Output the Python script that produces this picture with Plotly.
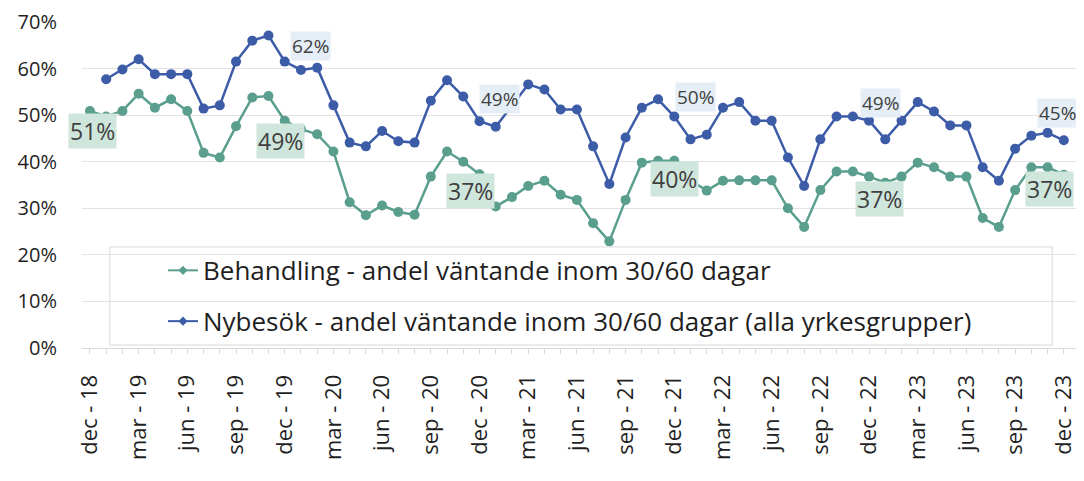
import plotly.graph_objects as go

months = ["jan", "feb", "mar", "apr", "maj", "jun", "jul", "aug", "sep", "okt", "nov", "dec"]
categories = ["dec - 18"] + [f"{m} - {y}" for y in ["19", "20", "21", "22", "23"] for m in months]
tick_labels = ["dec - 18", "mar - 19", "jun - 19", "sep - 19", "dec - 19", "mar - 20", "jun - 20",
               "sep - 20", "dec - 20", "mar - 21", "jun - 21", "sep - 21", "dec - 21", "mar - 22",
               "jun - 22", "sep - 22", "dec - 22", "mar - 23", "jun - 23", "sep - 23", "dec - 23"]
y_ticks = [0, 10, 20, 30, 40, 50, 60, 70]

# Behandling: dec-18 .. dec-23 (61 months)
behandling = [50.9,
              49.7, 50.9, 54.6, 51.6, 53.4, 50.9, 41.9, 40.9, 47.6, 53.8, 54.1, 48.8,
              47.0, 45.9, 42.2, 31.3, 28.5, 30.6, 29.2, 28.6, 36.8, 42.2, 40.0, 37.3,
              30.4, 32.4, 34.8, 35.9, 32.9, 31.8, 26.8, 22.9, 31.8, 39.8, 40.2, 40.2,
              36.0, 33.8, 35.9, 36.0, 36.0, 36.0, 30.0, 26.0, 33.9, 37.9, 37.9, 36.8,
              35.5, 36.8, 39.8, 38.8, 36.8, 36.8, 27.9, 26.0, 33.9, 38.8, 38.8, 37.2]
# Nybesök: jan-19 .. dec-23 (60 months)
nybesok = [57.7, 59.8, 62.0, 58.8, 58.8, 58.8, 51.4, 52.1, 61.5, 66.0, 67.1, 61.5,
           59.7, 60.2, 52.1, 44.1, 43.3, 46.6, 44.4, 44.1, 53.1, 57.5, 54.0, 48.7,
           47.5, 52.0, 56.6, 55.5, 51.2, 51.2, 43.3, 35.2, 45.2, 51.6, 53.4, 49.7,
           44.8, 45.8, 51.6, 52.8, 48.8, 48.8, 40.9, 34.8, 44.8, 49.7, 49.7, 48.8,
           44.8, 48.8, 52.8, 50.8, 47.8, 47.8, 38.8, 35.9, 42.8, 45.6, 46.2, 44.6]

name_g = "Behandling - andel väntande inom 30/60 dagar"
name_b = "Nybesök - andel väntande inom 30/60 dagar (alla yrkesgrupper)"

green = "#5a9e8e"
blue = "#3d5ca8"
font_family = "'Open Sans', 'Noto Sans', sans-serif"
text_color = "#404040"
dark = "#1f1f1f"

x_green = list(range(len(categories)))
x_blue = list(range(1, len(categories)))

fig = go.Figure()
fig.add_trace(go.Scatter(
    x=x_green, y=behandling, mode="lines+markers", name=name_g, showlegend=False, cliponaxis=False,
    line=dict(color=green, width=2.5), marker=dict(color=green, size=10)))
fig.add_trace(go.Scatter(
    x=x_blue, y=nybesok, mode="lines+markers", name=name_b, showlegend=False, cliponaxis=False,
    line=dict(color=blue, width=2.5), marker=dict(color=blue, size=10)))
# legend entries (small markers, as in the reference)
fig.add_trace(go.Scatter(x=[None], y=[None], mode="lines+markers", name=name_g, legendgroup="g1",
                         line=dict(color=green, width=2), marker=dict(color=green, size=7, symbol="diamond")))
fig.add_trace(go.Scatter(x=[None], y=[None], mode="lines+markers", name=name_b, legendgroup="g2",
                         line=dict(color=blue, width=2), marker=dict(color=blue, size=7, symbol="diamond")))

# December labels
dec_idx = [i for i, c in enumerate(categories) if c.startswith("dec")]
green_offsets = {0: (3, 20), 12: (-4, 20), 24: (-9, 17), 36: (0, 18), 48: (10, 22), 60: (-14, 14)}
blue_offsets = {12: (26, -16), 24: (20, -22), 36: (21, -20), 48: (11, -18), 60: (-6, -27)}

annotations = []
for i in dec_idx:
    v = behandling[i]
    ax, ay = green_offsets[i]
    annotations.append(dict(x=i, y=v, xref="x", yref="y", text=f"{round(v)}%", showarrow=True,
                            arrowcolor="rgba(0,0,0,0)", ax=ax, ay=ay, bgcolor="#cfe6dc",
                            font=dict(size=23, color=text_color, family=font_family), borderpad=1))
for i in dec_idx:
    if i == 0:
        continue
    v = nybesok[i - 1]
    ax, ay = blue_offsets[i]
    annotations.append(dict(x=i, y=v, xref="x", yref="y", text=f"{round(v)}%", showarrow=True,
                            arrowcolor="rgba(0,0,0,0)", ax=ax, ay=ay, bgcolor="#e5eef7",
                            font=dict(size=19, color=text_color, family=font_family), borderpad=1))

fig.update_layout(
    width=1068, height=465,
    margin=dict(l=74, r=0, t=14, b=125, autoexpand=False),
    paper_bgcolor="white", plot_bgcolor="white",
    font=dict(family=font_family, color=dark),
    annotations=annotations,
    showlegend=True,
    legend=dict(x=0.0815, y=0.31, xanchor="left", yanchor="top", bgcolor="rgba(0,0,0,0)",
                font=dict(size=26, color=dark, family=font_family), tracegroupgap=14,
                itemwidth=30),
    shapes=[dict(type="rect", xref="paper", yref="paper", x0=0.028, x1=0.976, y0=0.009, y1=0.31,
                 line=dict(color="#d9d9d9", width=1), layer="below")],
)
fig.update_yaxes(range=[0, 70], tickmode="array", tickvals=y_ticks, ticktext=[f"{v}%" for v in y_ticks],
                 showgrid=True, gridcolor="#e3e3e3", gridwidth=1, zeroline=False,
                 tickfont=dict(size=20, color=dark), ticklabelstandoff=24, showline=False)
fig.update_xaxes(range=[-0.49, 60.75], tickmode="array", tickvals=list(range(0, 61, 3)), ticktext=tick_labels,
                 tickangle=-90, showgrid=False, zeroline=False, showline=True, linecolor="#d9d9d9",
                 ticks="outside", ticklen=5, tickcolor="#d9d9d9", ticklabeloverflow="allow",
                 minor=dict(dtick=1, tick0=0, ticks="outside", ticklen=5, tickcolor="#d9d9d9"),
                 tickfont=dict(size=22, color=dark), ticklabelstandoff=12)

fig.write_html("out.html")
